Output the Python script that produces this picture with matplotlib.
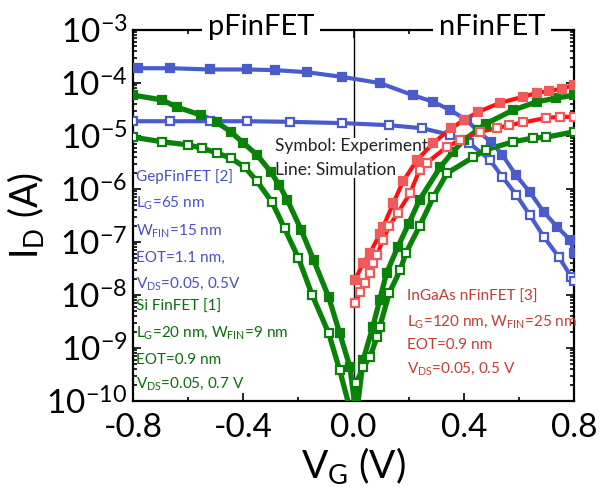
import numpy as np
import matplotlib
matplotlib.use("Agg")
import matplotlib.pyplot as plt
from matplotlib import ticker

plt.rcParams['font.family'] = ['Lato', 'DejaVu Sans']
plt.rcParams['mathtext.fontset'] = 'custom'
plt.rcParams['mathtext.rm'] = 'Lato'
plt.rcParams['mathtext.it'] = 'Lato:italic'
plt.rcParams['mathtext.bf'] = 'Lato:bold'
plt.rcParams['axes.unicode_minus'] = False

# ---- Ge pFinFET [2] ----
ge_hi_vg = [-0.78, -0.665, -0.52, -0.385, -0.285, -0.17, -0.04, 0.095, 0.215, 0.29,
            0.35, 0.41, 0.45, 0.50, 0.54, 0.59, 0.64, 0.69, 0.74, 0.785, 0.80]
ge_hi_id = [1.9e-4, 1.9e-4, 1.8e-4, 1.8e-4, 1.75e-4, 1.6e-4, 1.3e-4, 1.0e-4, 5.9e-5, 4.4e-5,
            3.1e-5, 2.0e-5, 1.26e-5, 7.6e-6, 4.4e-6, 1.8e-6, 8.7e-7, 3.7e-7, 1.9e-7, 1.1e-7, 6.3e-8]
ge_lo_vg = [-0.80, -0.665, -0.52, -0.385, -0.23, -0.04, 0.13, 0.25, 0.35, 0.42,
            0.495, 0.54, 0.59, 0.64, 0.69, 0.745, 0.79, 0.80]
ge_lo_id = [1.9e-5, 1.9e-5, 1.9e-5, 1.9e-5, 1.85e-5, 1.75e-5, 1.6e-5, 1.4e-5, 1.05e-5, 7.4e-6,
            3.5e-6, 1.7e-6, 7.8e-7, 3.2e-7, 1.26e-7, 5.2e-8, 2.2e-8, 1.8e-8]

# ---- Si FinFET [1] ----
si_hi_vg = [-0.80, -0.695, -0.64, -0.555, -0.495, -0.445, -0.40, -0.35, -0.30, -0.27,
            -0.24, -0.19, -0.145, -0.09, -0.05, -0.013, 0.01, 0.035, 0.07, 0.095,
            0.12, 0.16, 0.20, 0.24, 0.315, 0.36, 0.40, 0.45, 0.48, 0.58, 0.665, 0.735, 0.80]
si_hi_id = [5.9e-5, 4.8e-5, 3.5e-5, 2.5e-5, 1.8e-5, 1.2e-5, 7.4e-6, 4.4e-6, 2.1e-6, 1.2e-6,
            6.2e-7, 1.7e-7, 4.6e-8, 9.1e-9, 1.9e-9, 4.4e-10, 5.0e-11, 5.9e-10, 2.5e-9, 8.1e-9,
            2.6e-8, 7.9e-8, 2.2e-7, 6.3e-7, 2.6e-6, 5.0e-6, 8.3e-6, 1.3e-5, 1.7e-5, 3.1e-5, 4.4e-5, 5.2e-5, 5.9e-5]
si_lo_vg = [-0.80, -0.695, -0.60, -0.55, -0.495, -0.445, -0.395, -0.35, -0.295, -0.25,
            -0.20, -0.15, -0.09, -0.05, -0.005, 0.01, 0.035, 0.06, 0.085, 0.095,
            0.13, 0.17, 0.19, 0.24, 0.29, 0.34, 0.435, 0.48, 0.58, 0.65, 0.70, 0.80]
si_lo_id = [9.5e-6, 7.8e-6, 6.8e-6, 5.9e-6, 4.8e-6, 3.8e-6, 2.6e-6, 1.4e-6, 5.6e-7, 1.8e-7,
            5.0e-8, 1.0e-8, 1.9e-9, 3.8e-10, 5.0e-11, 2.2e-10, 4.4e-10, 6.8e-10, 1.6e-9, 2.5e-9,
            1.1e-8, 3.0e-8, 6.2e-8, 2.0e-7, 7.1e-7, 2.0e-6, 4.0e-6, 5.5e-6, 7.8e-6, 9.1e-6, 9.5e-6, 1.2e-5]

# ---- InGaAs nFinFET [3] ----
iga_hi_vg = [0.005, 0.035, 0.06, 0.095, 0.107, 0.145, 0.18, 0.23, 0.29, 0.355,
             0.40, 0.45, 0.53, 0.615, 0.665, 0.71, 0.755, 0.80]
iga_hi_id = [1.9e-8, 4.0e-8, 6.2e-8, 1.4e-7, 1.9e-7, 5.5e-7, 1.4e-6, 3.5e-6, 7.4e-6, 1.4e-5,
             2.0e-5, 2.8e-5, 4.2e-5, 5.5e-5, 6.5e-5, 7.1e-5, 7.8e-5, 9.1e-5]
iga_lo_vg = [0.005, 0.025, 0.04, 0.06, 0.07, 0.085, 0.107, 0.13, 0.16, 0.205,
             0.24, 0.265, 0.34, 0.385, 0.46, 0.52, 0.565, 0.615, 0.70, 0.75, 0.80]
iga_lo_id = [7.1e-9, 1.15e-8, 1.7e-8, 2.6e-8, 4.0e-8, 5.6e-8, 1.1e-7, 2.0e-7, 3.5e-7, 8.3e-7,
             2.3e-6, 3.1e-6, 6.3e-6, 8.3e-6, 1.2e-5, 1.4e-5, 1.6e-5, 1.8e-5, 2.2e-5, 2.3e-5, 2.3e-5]

BLUE = '#4a5ccc'
GREEN = '#0a820a'
RED_LINE = '#ff1010'
RED_MK = '#f05a5a'

fig = plt.figure(figsize=(6.05, 4.87), dpi=100)
ax = fig.add_axes([0.2198, 0.1766, 0.729, 0.7618])

ax.axvline(0.0, color='black', lw=1.0, zorder=1)


def curve(vg, cur, line_col, mk_col, filled, lw):
    ax.plot(vg, cur, '-', color=line_col, lw=lw, zorder=3,
            solid_capstyle='butt', solid_joinstyle='round')
    ax.plot(vg, cur, 's', ms=6.0,
            mfc=mk_col if filled else 'white', mec=mk_col,
            mew=1.6, zorder=4, ls='none')


curve(ge_hi_vg, ge_hi_id, BLUE, BLUE, True, 3.0)
curve(ge_lo_vg, ge_lo_id, BLUE, BLUE, False, 3.0)
curve(si_hi_vg, si_hi_id, GREEN, GREEN, True, 3.8)
curve(si_lo_vg, si_lo_id, GREEN, GREEN, False, 3.8)
curve(iga_hi_vg, iga_hi_id, RED_LINE, RED_MK, True, 3.0)
curve(iga_lo_vg, iga_lo_id, RED_LINE, RED_MK, False, 3.0)

ax.set_yscale('log')
ax.set_xlim(-0.8, 0.8)
ax.set_ylim(1e-10, 1e-3)

ax.xaxis.set_major_locator(ticker.FixedLocator([-0.8, -0.4, 0.0, 0.4, 0.8]))
ax.xaxis.set_minor_locator(ticker.FixedLocator([-0.6, -0.2, 0.2, 0.6]))
ax.xaxis.set_major_formatter(ticker.FuncFormatter(lambda v, p: f'{v:.1f}' if abs(v) > 1e-9 else '0.0'))
ax.yaxis.set_major_locator(ticker.LogLocator(base=10, numticks=20))
ax.yaxis.set_minor_locator(ticker.LogLocator(base=10, subs=np.arange(2, 10), numticks=20))
ax.yaxis.set_minor_formatter(ticker.NullFormatter())
ax.yaxis.set_major_formatter(ticker.FuncFormatter(
    lambda v, p: r'$\mathregular{10^{%d}}$' % int(round(np.log10(v)))))

ax.tick_params(which='both', direction='in', top=True, right=True, width=1.2)
ax.tick_params(which='major', length=6, labelsize=24)
ax.tick_params(axis='y', which='major', pad=4)
ax.tick_params(axis='x', which='major', pad=9)
ax.tick_params(which='minor', length=3)
for s in ax.spines.values():
    s.set_linewidth(1.6)

ax.set_xlabel(r'V$_\mathregular{G}$ (V)', fontsize=28, labelpad=1)
ax.set_ylabel(r'I$_\mathregular{D}$ (A)', fontsize=27, labelpad=0)

# device type labels sitting on the top frame
for xa, lab in [(0.29, 'pFinFET'), (0.814, 'nFinFET')]:
    ax.text(xa, 1.008, lab, transform=ax.transAxes, ha='center', va='center',
            fontsize=21, zorder=6, clip_on=False,
            bbox=dict(facecolor='white', edgecolor='none', pad=4))

# legend note
ax.text((275 - 133) / 441, (401 - 158) / 371, 'Symbol: Experiment\nLine: Simulation',
        transform=ax.transAxes, ha='left', va='center', fontsize=12.5,
        color='#222222', linespacing=1.55, zorder=2,
        bbox=dict(facecolor='white', edgecolor='none', pad=0.5))


def note(px, py, s, col):
    ax.text((px - 133) / 441, (401 - py) / 371, s, transform=ax.transAxes,
            ha='left', va='center', fontsize=11, color=col, zorder=5)


GE_TXT = '#4b4fc4'
SI_TXT = '#0b6e0b'
IG_TXT = '#c43c34'
note(136, 177, 'GepFinFET [2]', GE_TXT)
note(136, 203, r'L$_\mathregular{G}$=65 nm', GE_TXT)
note(136, 231, r'W$_\mathregular{FIN}$=15 nm', GE_TXT)
note(136, 258, 'EOT=1.1 nm,', GE_TXT)
note(136, 284, r'V$_\mathregular{DS}$=0.05, 0.5V', GE_TXT)
note(136, 307, 'Si FinFET [1]', SI_TXT)
note(136, 333, r'L$_\mathregular{G}$=20 nm, W$_\mathregular{FIN}$=9 nm', SI_TXT)
note(136, 360, 'EOT=0.9 nm', SI_TXT)
note(136, 384, r'V$_\mathregular{DS}$=0.05, 0.7 V', SI_TXT)
note(407, 297, 'InGaAs nFinFET [3]', IG_TXT)
note(407, 322, r'L$_\mathregular{G}$=120 nm, W$_\mathregular{FIN}$=25 nm', IG_TXT)
note(407, 345, 'EOT=0.9 nm', IG_TXT)
note(407, 369, r'V$_\mathregular{DS}$=0.05, 0.5 V', IG_TXT)

fig.savefig('out.png', dpi=100)
